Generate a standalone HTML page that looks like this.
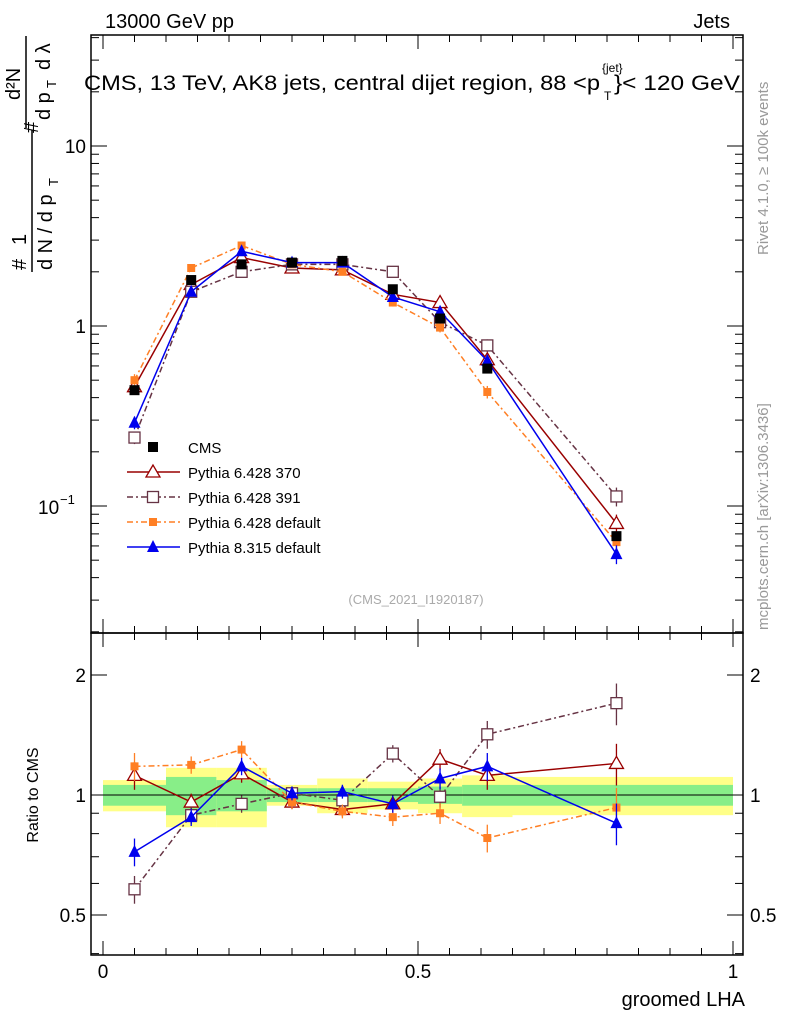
<!DOCTYPE html>
<html><head><meta charset="utf-8"><style>
body{margin:0;background:#fff;width:786px;height:1024px;overflow:hidden}
svg{font-family:"Liberation Sans",sans-serif}
</style></head><body>
<svg id="c" width="786" height="1024" xmlns="http://www.w3.org/2000/svg">
<text x="105" y="28" font-size="20">13000 GeV pp</text>
<text x="730" y="28" font-size="20" text-anchor="end">Jets</text>
<text x="84" y="90" font-size="21" textLength="516" lengthAdjust="spacingAndGlyphs">CMS, 13 TeV, AK8 jets, central dijet region, 88 &lt;p</text>
<text x="602" y="72" font-size="12">{jet}</text>
<text x="604" y="100" font-size="12">T</text>
<text x="614" y="90" font-size="21" textLength="126" lengthAdjust="spacingAndGlyphs">}&lt; 120 GeV</text>
<text transform="translate(768,255) rotate(-90)" font-size="15" fill="#999">Rivet 4.1.0, ≥ 100k events</text>
<text transform="translate(768,630) rotate(-90)" font-size="15" fill="#999">mcplots.cern.ch [arXiv:1306.3436]</text>
<text x="416" y="604" font-size="13" fill="#aaa" text-anchor="middle">(CMS_2021_I1920187)</text>
<g font-size="20">
<text transform="translate(26,270) rotate(-90)">#</text>
<text transform="translate(26,245) rotate(-90)">1</text>
<line x1="32" y1="272" x2="32" y2="130" stroke="#000" stroke-width="1.5"/>
<text transform="translate(52,270) rotate(-90)">d N / d p</text>
<text transform="translate(58,186) rotate(-90)" font-size="13">T</text>
<text transform="translate(38,133) rotate(-90)">#</text>
<text transform="translate(20,100) rotate(-90)">d²N</text>
<line x1="26" y1="128" x2="26" y2="36" stroke="#000" stroke-width="1.5"/>
<text transform="translate(50,120) rotate(-90)">d p</text>
<text transform="translate(56,88) rotate(-90)" font-size="13">T</text>
<text transform="translate(50,70) rotate(-90)">d λ</text>
</g>
<text transform="translate(38,795) rotate(-90)" font-size="16" text-anchor="middle">Ratio to CMS</text>
<text x="745" y="1006" font-size="20" text-anchor="end">groomed LHA</text>
</svg>
<script>
const binEdges=[0,0.1,0.18,0.26,0.34,0.42,0.5,0.57,0.65,1.0];
const xCenters=[0.05,0.14,0.22,0.30,0.38,0.46,0.535,0.61,0.815];
const cmsVals=[0.44,1.8,2.2,2.25,2.3,1.6,1.1,0.58,0.068];
const p370=[0.46,1.7,2.4,2.1,2.05,1.5,1.35,0.65,0.08];
const p391=[0.24,1.55,2.0,2.2,2.2,2.0,1.05,0.78,0.113];
const pdef=[0.5,2.1,2.8,2.2,2.0,1.35,0.98,0.43,0.063];
const p8=[0.29,1.55,2.6,2.25,2.25,1.45,1.2,0.64,0.054];
const r370=[1.12,0.96,1.13,0.96,0.92,0.95,1.23,1.12,1.2];
const r391=[0.58,0.89,0.95,1.01,0.97,1.27,0.99,1.42,1.7];
const rdef=[1.18,1.19,1.3,0.96,0.91,0.88,0.9,0.78,0.93];
const r8=[0.72,0.88,1.18,1.01,1.02,0.95,1.1,1.18,0.85];
const greenErr=[0.06,0.11,0.09,0.04,0.04,0.04,0.05,0.06,0.06];
const yellowErr=[0.09,0.17,0.17,0.06,0.1,0.08,0.1,0.12,0.11];
const relErr=[0.08,0.05,0.05,0.04,0.04,0.05,0.06,0.08,0.12];
const xTicks=[0,0.5,1];
const xTickLabels=["0","0.5","1"];
const ratioTicks=[0.5,1,2];
const ratioTickLabels=["0.5","1","2"];

const svg=document.getElementById('c');
const NS='http://www.w3.org/2000/svg';
const L=91,R=743,T=35,M=633,B=955;
const X=v=>103+630*v;
const Y=v=>326-180*Math.log10(v);
const RY=v=>795-398.6*Math.log10(v);
function el(tag,a,parent){const e=document.createElementNS(NS,tag);for(const k in a)e.setAttribute(k,a[k]);(parent||svg).appendChild(e);return e;}

const bands=el('g',{});


for(let i=0;i<xCenters.length;i++){
 const x0=X(binEdges[i]),x1=X(binEdges[i+1]);
 const y=el('rect',{x:x0,y:RY(1+yellowErr[i]),width:x1-x0,height:RY(1-yellowErr[i])-RY(1+yellowErr[i]),fill:'#ffff88'},bands);
 
 
 const g=el('rect',{x:x0,y:RY(1+greenErr[i]),width:x1-x0,height:RY(1-greenErr[i])-RY(1+greenErr[i]),fill:'#88ee88'},bands);
 
 
}
el('line',{x1:L,x2:R,y1:RY(1),y2:RY(1),stroke:'#000','stroke-width':1});

const f1=el('rect',{x:L,y:T,width:R-L,height:M-T,fill:'none',stroke:'#000','stroke-width':1.5});


const f2=el('rect',{x:L,y:M,width:R-L,height:B-M,fill:'none',stroke:'#000','stroke-width':1.5});



for(let v=0;v<=1.0001;v+=0.05){
 const big=Math.abs(v*10-Math.round(v*10))<1e-6 && Math.round(v*10)%5==0;
 const len=big?14:7;
 for(const [y0,d] of [[B,-1],[M,1],[M,-1],[T,1]]){
  el('line',{x1:X(v),x2:X(v),y1:y0,y2:y0+d*len,stroke:'#000'});
 }
}
xTicks.forEach((v,i)=>{const t=el('text',{x:X(v),y:978,'font-size':19,'text-anchor':'middle'});t.textContent=xTickLabels[i];
 
 });

for(let d=-2;d<=1;d++){for(let m=1;m<10;m++){const v=m*Math.pow(10,d);const y=Y(v);if(y<T||y>M)continue;
 const len=m==1?16:8;el('line',{x1:L,x2:L+len,y1:y,y2:y,stroke:'#000'});el('line',{x1:R,x2:R-len,y1:y,y2:y,stroke:'#000'});}}
[[10,'10'],[1,'1']].forEach(([v,s])=>{const t=el('text',{x:86,y:Y(v)+7,'font-size':19,'text-anchor':'end'});t.textContent=s;
 
 });
{const t=el('text',{x:38,y:Y(0.1)+8,'font-size':19});t.textContent='10';
 
 
 const s=el('text',{x:60,y:Y(0.1)-2,'font-size':13});s.textContent='−1';
 
 }

for(const v of [0.4,0.5,0.6,0.7,0.8,0.9,1,2]){const y=RY(v);const big=ratioTicks.includes(v);const len=big?16:8;
 el('line',{x1:L,x2:L+len,y1:y,y2:y,stroke:'#000'});el('line',{x1:R,x2:R-len,y1:y,y2:y,stroke:'#000'});}
ratioTicks.forEach((v,i)=>{for(const [x,a] of [[86,'end'],[750,'start']]){const t=el('text',{x:x,y:RY(v)+7,'font-size':19,'text-anchor':a});t.textContent=ratioTickLabels[i];
 
 }});

const series=[
 {name:'pythia-6428-370',vals:p370,rat:r370,col:'#990000',dash:'',mk:'otri'},
 {name:'pythia-6428-391',vals:p391,rat:r391,col:'#663344',dash:'6,3,2,3',mk:'osq'},
 {name:'pythia-6428-default',vals:pdef,rat:rdef,col:'#ff7f24',dash:'6,3,2,3',mk:'fsq'},
 {name:'pythia-8315-default',vals:p8,rat:r8,col:'#0000ee',dash:'',mk:'ftri'}
];
function marker(g,mk,x,y,col){
 if(mk=='otri')el('polygon',{points:`${x},${y-7} ${x-7},${y+5} ${x+7},${y+5}`,fill:'#fff',stroke:col,'stroke-width':1.3},g);
 if(mk=='ftri')el('polygon',{points:`${x},${y-7} ${x-6},${y+5} ${x+6},${y+5}`,fill:col},g);
 if(mk=='osq')el('rect',{x:x-5.5,y:y-5.5,width:11,height:11,fill:'#fff',stroke:col,'stroke-width':1.3},g);
 if(mk=='fsq')el('rect',{x:x-4,y:y-4,width:8,height:8,fill:col},g);
 if(mk=='cms')el('rect',{x:x-5,y:y-5,width:10,height:10,fill:'#000'},g);
}
function drawSeries(s,arr,yf,panel){
 const g=el('g',{});
 
 
 el('polyline',{points:xCenters.map((x,i)=>X(x)+','+yf(arr[i])).join(' '),fill:'none',stroke:s.col,'stroke-width':1.5,'stroke-dasharray':s.dash},g);
 xCenters.forEach((x,i)=>{const v=arr[i],e=relErr[i];
  el('line',{x1:X(x),x2:X(x),y1:yf(v*(1+e)),y2:yf(v*(1-e)),stroke:s.col,'stroke-width':1.3},g);
  marker(g,s.mk,X(x),yf(v),s.col);});
}
series.forEach(s=>{drawSeries(s,s.vals,Y,'main');drawSeries(s,s.rat,RY,'ratio');});
const cg=el('g',{});


xCenters.forEach((x,i)=>marker(cg,'cms',X(x),Y(cmsVals[i]),'#000'));

const lg=el('g',{});


const legLabels=['CMS','Pythia 6.428 370','Pythia 6.428 391','Pythia 6.428 default','Pythia 8.315 default'];
const leg=[{mk:'cms',col:'#000',line:false,dash:''}].concat(series.map(s=>({mk:s.mk,col:s.col,line:true,dash:s.dash})));
leg.forEach((e,i)=>{const y=447+25*i;
 const g=el('g',{},lg);
 
 
 if(e.line)el('line',{x1:127,x2:180,y1:y,y2:y,stroke:e.col,'stroke-width':1.5,'stroke-dasharray':e.dash},g);
 marker(g,e.mk,153,y,e.col);
 const t=el('text',{x:188,y:y+6,'font-size':15},g);t.textContent=legLabels[i];});
</script>
</body></html>
